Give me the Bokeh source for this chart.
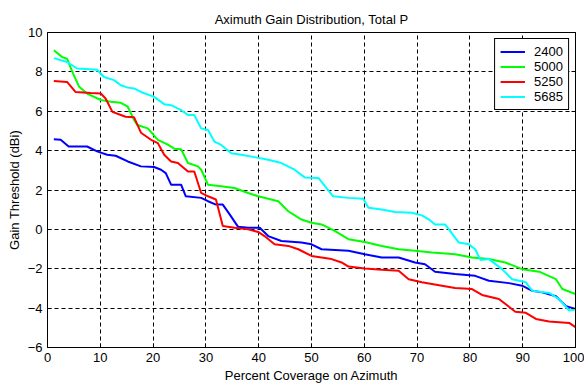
from bokeh.plotting import figure
from bokeh.models import Range1d, FixedTicker, LinearAxis, Legend, LegendItem
from bokeh.embed import file_html
from bokeh.resources import INLINE

title_text = "Aximuth Gain Distribution, Total P"
x_label = "Percent Coverage on Azimuth"
y_label = "Gain Threshold (dBi)"
x_ticks = [0, 10, 20, 30, 40, 50, 60, 70, 80, 90, 100]
y_ticks = [-6, -4, -2, 0, 2, 4, 6, 8, 10]

names = ["2400", "5000", "5250", "5685"]
colors = ["#0000FF", "#00FF00", "#FF0000", "#00FFFF"]

x_2400 = [1.2, 2.5, 4.0, 7.5, 9.4, 11.3, 12.9, 15.2, 17.7, 20.2, 21.5, 22.4, 23.4, 25.3, 26.2, 29.1,
          30.4, 31.9, 33.2, 34.5, 36.1, 38.0, 40.2, 41.8, 44.3, 48.1, 50.0, 51.9, 57.0, 60.1, 63.3,
          66.5, 69.6, 71.5, 73.4, 77.2, 81.0, 83.6, 87.4, 89.9, 91.8, 93.7, 96.3, 98.2, 100.0]
y_2400 = [4.58, 4.55, 4.21, 4.21, 3.96, 3.79, 3.74, 3.45, 3.20, 3.17, 3.03, 2.86, 2.27, 2.27, 1.68, 1.60,
          1.43, 1.26, 1.26, 0.76, 0.13, 0.08, 0.08, -0.34, -0.59, -0.67, -0.76, -1.01, -1.09, -1.26, -1.43,
          -1.43, -1.68, -1.77, -2.15, -2.27, -2.36, -2.61, -2.73, -2.86, -3.12, -3.20, -3.40, -3.90, -4.04]

x_5000 = [1.2, 2.8, 3.7, 4.7, 6.0, 7.5, 10.1, 12.0, 13.9, 15.2, 16.4, 17.0, 19.0, 20.9, 22.8, 24.0,
          25.3, 26.6, 28.5, 29.1, 30.4, 32.9, 35.4, 38.0, 39.9, 43.7, 45.6, 48.1, 50.0, 51.9, 54.4,
          57.0, 60.1, 63.3, 66.5, 69.6, 72.8, 77.2, 80.4, 83.6, 86.7, 89.9, 93.1, 96.3, 97.5, 100.0]
y_5000 = [9.10, 8.75, 8.67, 8.00, 7.24, 6.90, 6.57, 6.48, 6.43, 6.23, 5.56, 5.30, 5.13, 4.55, 4.30, 4.10,
          4.07, 3.37, 3.20, 3.03, 2.27, 2.19, 2.10, 1.85, 1.68, 1.43, 0.92, 0.50, 0.34, 0.25, -0.08,
          -0.50, -0.64, -0.84, -1.01, -1.09, -1.18, -1.26, -1.43, -1.51, -1.68, -2.02, -2.15, -2.53, -3.03, -3.28]

x_5250 = [1.2, 3.7, 5.3, 8.2, 10.1, 11.0, 12.3, 13.9, 14.8, 16.4, 17.7, 19.6, 20.9, 22.1, 23.4, 24.7,
          26.6, 27.8, 29.1, 30.4, 31.9, 33.2, 35.4, 38.0, 39.9, 41.1, 43.0, 45.6, 47.5, 50.0, 53.8,
          55.7, 57.0, 60.1, 63.3, 66.5, 68.4, 70.9, 74.7, 77.2, 80.4, 82.3, 85.5, 88.6, 90.6, 92.5,
          95.0, 98.8, 100.0]
y_5250 = [7.54, 7.49, 6.98, 6.93, 6.90, 6.65, 5.97, 5.81, 5.72, 5.69, 4.91, 4.55, 4.38, 3.79, 3.45, 3.37,
          2.94, 2.94, 1.85, 1.68, 1.52, 0.17, 0.08, 0.00, -0.13, -0.34, -0.76, -0.84, -1.01, -1.35, -1.51,
          -1.68, -1.89, -1.99, -2.05, -2.10, -2.53, -2.69, -2.86, -2.98, -3.03, -3.33, -3.54, -4.18, -4.24, -4.55,
          -4.68, -4.75, -4.97]

x_5685 = [1.2, 3.7, 5.6, 9.4, 10.7, 12.6, 13.9, 15.2, 16.4, 17.7, 20.2, 22.1, 23.4, 25.3, 26.6, 27.8,
          29.1, 30.4, 31.6, 32.9, 34.8, 36.7, 39.2, 41.8, 44.3, 46.8, 48.7, 51.3, 54.1, 57.0, 59.8,
          60.8, 63.3, 65.8, 69.0, 70.9, 72.2, 73.4, 75.3, 77.9, 79.8, 81.0, 82.0, 83.6, 86.1, 88.0,
          90.6, 91.8, 95.0, 96.9, 98.8, 100.0]
y_5685 = [8.70, 8.50, 8.17, 8.11, 7.74, 7.58, 7.32, 7.20, 7.16, 6.98, 6.73, 6.36, 6.31, 6.06, 5.81, 5.81,
          5.13, 5.05, 4.46, 4.29, 3.87, 3.79, 3.67, 3.54, 3.37, 3.03, 2.64, 2.61, 1.68, 1.60, 1.55,
          1.10, 1.01, 0.88, 0.84, 0.71, 0.51, 0.25, 0.25, -0.67, -0.76, -1.01, -1.55, -1.51, -2.02, -2.53,
          -2.69, -3.12, -3.23, -3.54, -4.12, -4.07]

xs = [x_2400, x_5000, x_5250, x_5685]
ys = [y_2400, y_5000, y_5250, y_5685]

FONT = "Liberation Sans"

p = figure(width=584, height=385, output_backend="svg", toolbar_location=None,
           x_range=Range1d(0, 100), y_range=Range1d(-6, 10),
           min_border_left=47, min_border_right=9, min_border_top=32, min_border_bottom=36,
           background_fill_color="white", border_fill_color="white")

p.title.text = title_text
p.title.align = "center"
p.title.text_font = FONT
p.title.text_font_size = "13px"
p.title.text_font_style = "normal"
p.title.text_color = "black"
p.title.standoff = 12

p.outline_line_color = "black"
p.outline_line_width = 1
p.outline_line_alpha = 1

for ax, ticks in ((p.xaxis[0], x_ticks), (p.yaxis[0], y_ticks)):
    ax.ticker = FixedTicker(ticks=ticks)
    ax.major_tick_in = 4
    ax.major_tick_out = 0
    ax.minor_tick_line_color = None
    ax.axis_line_color = "black"
    ax.major_tick_line_color = "black"
    ax.major_label_text_font = FONT
    ax.major_label_text_font_size = "13px"
    ax.major_label_text_color = "black"
    ax.axis_label_text_font = FONT
    ax.axis_label_text_font_size = "13px"
    ax.axis_label_text_font_style = "normal"
    ax.axis_label_text_color = "black"

p.xaxis[0].axis_label = x_label
p.yaxis[0].axis_label = y_label
p.xaxis[0].major_label_standoff = 5
p.xaxis[0].axis_label_standoff = 3
p.yaxis[0].major_label_standoff = 5
p.yaxis[0].axis_label_standoff = 3

# mirrored inward ticks on the right side
right_ax = LinearAxis(ticker=FixedTicker(ticks=y_ticks), major_tick_in=4, major_tick_out=0,
                      minor_tick_line_color=None, major_label_text_font_size="0px",
                      major_label_standoff=0, axis_line_color="black")
p.add_layout(right_ax, "right")

for g in (p.xgrid[0], p.ygrid[0]):
    g.grid_line_color = "black"
    g.grid_line_dash = "4 3"
    g.grid_line_width = 1
    g.grid_line_alpha = 1
p.xgrid[0].ticker = FixedTicker(ticks=x_ticks)
p.ygrid[0].ticker = FixedTicker(ticks=y_ticks)

items = []
for name, c, x, y in zip(names, colors, xs, ys):
    r = p.line(x, y, line_color=c, line_width=2)
    items.append(LegendItem(label=name, renderers=[r]))

legend = Legend(items=items, location="top_right", margin=6, padding=5, spacing=0,
                label_height=15, glyph_height=15, glyph_width=25, label_standoff=9,
                label_width=20, label_text_font=FONT, label_text_font_size="13px",
                label_text_color="black", border_line_color="black", border_line_width=1,
                border_line_alpha=1, background_fill_color="white", background_fill_alpha=1)
p.add_layout(legend, "center")

open("out.html", "w").write(file_html(p, INLINE))
